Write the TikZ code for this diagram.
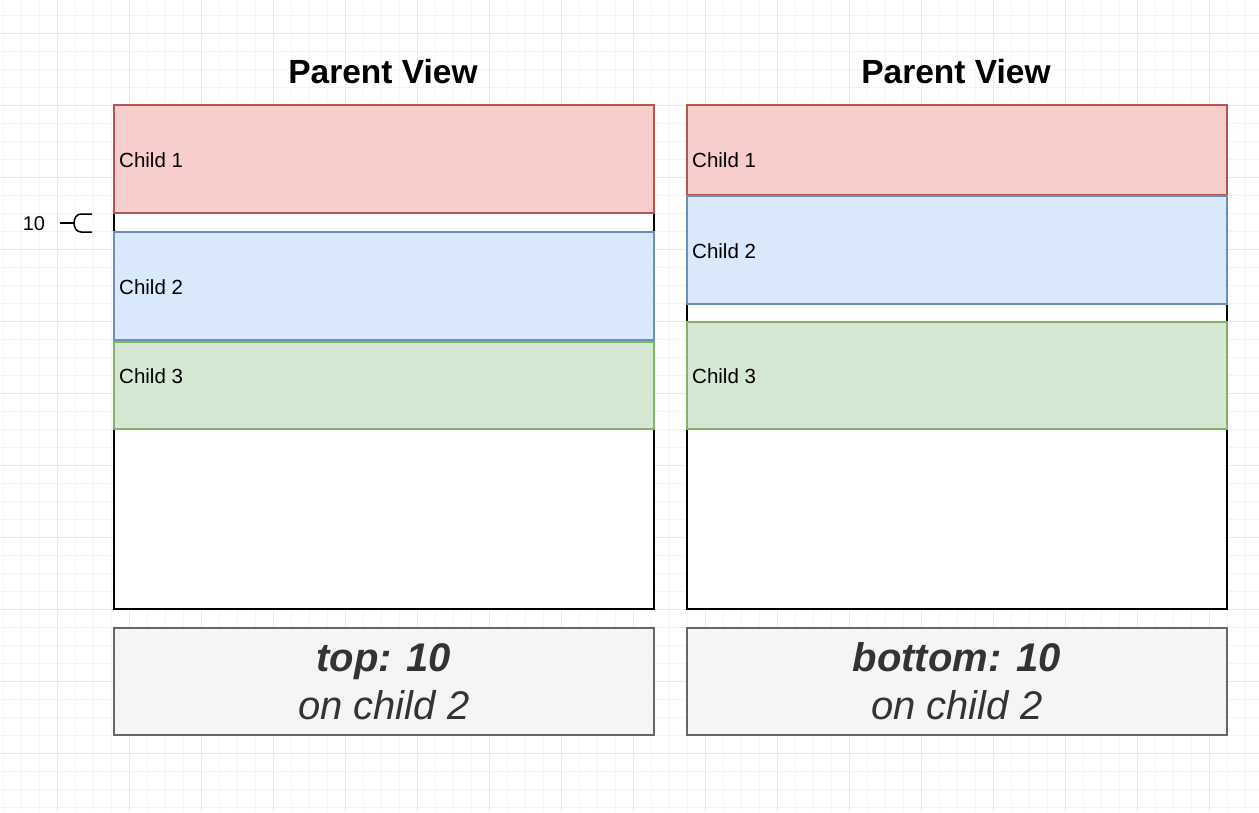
\documentclass[tikz,border=0pt]{standalone}
\usepackage{fontspec}
\setmainfont{Liberation Sans}
\usepackage{tikz}
\definecolor{onefill}{HTML}{F8CECC}
\definecolor{oneline}{HTML}{B85450}
\definecolor{twofill}{HTML}{DAE8FC}
\definecolor{twoline}{HTML}{6C8EBF}
\definecolor{threefill}{HTML}{D5E8D4}
\definecolor{threeline}{HTML}{82B366}
\definecolor{notefill}{HTML}{F5F5F5}
\definecolor{noteline}{HTML}{666666}
\definecolor{notetext}{HTML}{333333}
\definecolor{gridminor}{HTML}{F4F4F4}
\definecolor{gridmajor}{HTML}{E9E9E9}
\tikzset{
  parent/.style={draw=black, fill=white, line width=1.8, anchor=north west,
    minimum width=540, minimum height=504, inner sep=0},
  child/.style={anchor=north west, minimum width=540, inner sep=0, line width=1.5},
  childtext/.style={anchor=west, inner sep=0, font=\fontsize{20.5}{24}\selectfont},
  title/.style={inner sep=0, font=\fontsize{33.5}{40}\selectfont\bfseries},
  note/.style={anchor=north west, draw=noteline, fill=notefill, line width=1.6,
    minimum width=540, minimum height=107, inner sep=0, align=center,
    text=notetext, font=\fontsize{40}{48}\selectfont},
  bracket/.style={black, line width=1.5}
}
\begin{document}
\begin{tikzpicture}[x=1pt,y=1pt]
\fill [white] (0,0) rectangle (1259,-812);
\useasboundingbox (0,0) rectangle (1259,-812);
\foreach \gx in {3,21,...,1259} \draw [gridminor] (\gx,0) -- (\gx,-812);
\foreach \gy in {15,33,...,812} \draw [gridminor] (0,-\gy) -- (1259,-\gy);
\foreach \gx in {57,129,...,1259} \draw [gridmajor] (\gx,0) -- (\gx,-812);
\foreach \gy in {33,105,...,812} \draw [gridmajor] (0,-\gy) -- (1259,-\gy);
% left parent, top on child 2
\node [title] (ltitle) at (383,-72) {Parent View};
\node [parent] (lpar) at (113,-104) {};
\node [child, draw=oneline, fill=onefill, minimum height=108] (lone) at (113,-104) {};
\node [child, draw=twoline, fill=twofill, minimum height=108] (ltwo) at (113,-231) {};
\node [child, draw=threeline, fill=threefill, minimum height=87] (lthree) at (113,-341) {};
\node [childtext] (lonetext) at (119,-160) {Child 1};
\node [childtext] (ltwotext) at (119,-287) {Child 2};
\node [childtext] (lthreetext) at (119,-376) {Child 3};
\node [note] (lnote) at (113,-627) {\textbf{\textit{top: 10}}\\\textit{on child 2}};
% right parent, bottom on child 2
\node [title] (rtitle) at (956,-72) {Parent View};
\node [parent] (rpar) at (686,-104) {};
\node [child, draw=oneline, fill=onefill, minimum height=90] (rone) at (686,-104) {};
\node [child, draw=twoline, fill=twofill, minimum height=108] (rtwo) at (686,-195) {};
\node [child, draw=threeline, fill=threefill, minimum height=107] (rthree) at (686,-321) {};
\node [childtext] (ronetext) at (692,-160) {Child 1};
\node [childtext] (rtwotext) at (692,-251) {Child 2};
\node [childtext] (rthreetext) at (692,-376) {Child 3};
\node [note] (rnote) at (686,-627) {\textbf{\textit{bottom: 10}}\\\textit{on child 2}};
% gap mark
\node [inner sep=0, font=\fontsize{20}{24}\selectfont] (gap) at (34,-224) {10};
\draw [bracket] (60,-223) -- (74,-223);
\draw [bracket] (92,-214) -- (81,-214) to[out=180,in=90] (74,-223)
  to[out=-90,in=180] (81,-232) -- (92,-232);
\end{tikzpicture}
\end{document}
